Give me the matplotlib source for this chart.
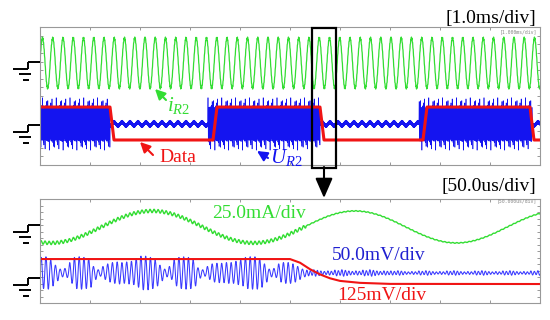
import numpy as np
import matplotlib.pyplot as plt
from matplotlib.patches import Rectangle

plt.rcParams['font.family'] = ['Liberation Serif', 'DejaVu Sans']
plt.rcParams['mathtext.fontset'] = 'custom'
plt.rcParams['mathtext.it'] = 'Liberation Serif:italic'
plt.rcParams['mathtext.rm'] = 'Liberation Serif'

# Values read off the two scope screens (x and y both in divisions)
# --- top screen, 1.0 ms/div ---
top_green_level = 5.91
top_green_amp = 1.45
top_green_period = 0.205
top_green_first_peak = 0.05

top_data_t = [0.0, 1.40, 1.48, 3.46, 3.54, 5.60, 5.68, 7.66, 7.74, 9.80, 9.88, 10.0]
top_data_v = [3.36, 3.36, 1.45, 1.45, 3.36, 3.36, 1.45, 1.45, 3.36, 3.36, 1.45, 1.45]

top_blue_level = 2.38
top_burst_start = [0.0, 3.36, 7.58]
top_burst_end = [1.40, 5.60, 9.84]
top_burst_spikes = [0.95, 0.90, 1.00, 1.35, 0.92, 0.88, 1.02, 0.96, 1.52, 0.90,
                    0.94, 1.05, 0.86, 1.22, 0.98, 0.90, 1.00, 1.45, 0.93, 0.89,
                    1.08, 0.95, 1.30]
top_idle_zigzag = 0.12
top_idle_wobble = 0.10
top_idle_wobble_period = 0.16

zoom_start = 5.44
zoom_width = 0.48

# --- bottom screen, 50.0 us/div ---
bot_green_level = 5.85
bot_green_amp = 1.23
bot_green_period = 4.06
bot_green_peak = 2.24
bot_green_ripple = [0.13, 0.03]

bot_data_t = [0.0, 5.0, 5.2, 5.4, 5.6, 5.8, 6.0, 6.4, 7.0, 10.0]
bot_data_v = [3.38, 3.38, 3.10, 2.60, 2.20, 1.90, 1.70, 1.55, 1.47, 1.46]

bot_blue_level = 2.31
bot_carrier_period = 0.095
bot_blue_cycle_amp = [1.20, 1.25, 1.00, 0.60, 0.30, 0.35, 0.80, 1.20, 1.25, 1.20,
                      1.10, 0.50, 0.25, 0.50, 0.70, 0.80, 0.85, 0.80, 0.85, 0.90,
                      1.10, 1.30, 1.30, 1.20, 1.00, 0.60, 0.30, 0.50, 1.00, 1.20,
                      1.25, 1.20, 1.00, 0.40, 0.25, 0.50, 0.70, 0.75, 0.75, 0.80,
                      0.80, 0.90, 1.00, 1.20, 1.25, 1.25, 1.10, 0.70, 0.30, 0.35,
                      0.70, 0.80, 0.80, 0.70, 0.50, 0.30]
bot_tail_period = 0.07
bot_tail_amp = [0.22, 0.18, 0.25, 0.20, 0.15, 0.12, 0.16, 0.13]
bot_tail_change = 7.0

green = '#33dd33'
blue = '#1414f0'
red = '#f01414'

fig = plt.figure(figsize=(5.5, 3.2), dpi=100)
ax1 = fig.add_axes([40 / 550, 155 / 320, 500 / 550, 138 / 320])
ax2 = fig.add_axes([40 / 550, 17 / 320, 500 / 550, 104 / 320])

for ax in (ax1, ax2):
    ax.set_xlim(0, 10)
    ax.set_ylim(0, 8)
    ax.set_xticks(np.arange(0, 11, 1))
    ax.set_yticks(np.arange(0, 8.5, 0.5))
    ax.tick_params(direction='in', length=2, width=0.6, color='#888888',
                   top=True, right=True, labelbottom=False, labelleft=False)
    for s in ax.spines.values():
        s.set_color('#999999')
        s.set_linewidth(0.8)

# ---- top screen ----
t = np.arange(0, 10.0001, 0.006)
g = top_green_level + top_green_amp * np.cos(2 * np.pi * (t - top_green_first_peak) / top_green_period)
g += 0.06 * np.where(np.arange(len(t)) % 2 == 0, 1, -1)
ax1.plot(t, g, color=green, lw=0.9)

sign = np.where(np.arange(len(t)) % 2 == 0, 1.0, -1.0)
spikes = np.resize(top_burst_spikes, len(t))
on = np.zeros(len(t), dtype=bool)
for a, b in zip(top_burst_start, top_burst_end):
    on |= (t >= a) & (t <= b)
idle = top_idle_wobble * np.sin(2 * np.pi * t / top_idle_wobble_period) + top_idle_zigzag * sign
b_top = top_blue_level + np.where(on, spikes * sign, idle)
ax1.plot(t, b_top, color=blue, lw=0.45)

ax1.plot(top_data_t, top_data_v, color=red, lw=2.2)

ax1.add_patch(Rectangle((zoom_start, -0.17), zoom_width, 8.11, fill=False,
                        edgecolor='black', lw=1.6, clip_on=False, zorder=5))

# ---- bottom screen ----
tb = np.arange(0, 10.0001, 0.004)
n_cyc = len(bot_blue_cycle_amp)
burst_end = n_cyc * bot_carrier_period
idx = np.clip((tb / bot_carrier_period).astype(int), 0, n_cyc - 1)
burst = np.array(bot_blue_cycle_amp)[idx] * np.sin(2 * np.pi * tb / bot_carrier_period)
tail_idx = ((tb - burst_end) / bot_tail_period).astype(int) % len(bot_tail_amp)
tail_amp = np.array(bot_tail_amp)[tail_idx] * np.where(tb < bot_tail_change, 1.0, 0.7)
tail = tail_amp * np.sin(2 * np.pi * (tb - burst_end) / bot_tail_period)
b_bot = bot_blue_level + np.where(tb < burst_end, burst, tail)
ax2.plot(tb, b_bot, color='#3a3aff', lw=0.75)

gr = np.where(tb < burst_end, bot_green_ripple[0], bot_green_ripple[1])
gb = bot_green_level + bot_green_amp * np.cos(2 * np.pi * (tb - bot_green_peak) / bot_green_period)
gb += gr * np.sin(2 * np.pi * tb / (bot_carrier_period * 0.85))
ax2.plot(tb, gb, color=green, lw=1.0)

ax2.plot(bot_data_t, bot_data_v, color=red, lw=1.5)

# ---- decorations in pixel space ----
deco = fig.add_axes([0, 0, 1, 1])
deco.set_xlim(0, 550)
deco.set_ylim(320, 0)
deco.axis('off')


def ground(y0):
    kw = dict(color='black', lw=1.4, solid_capstyle='butt')
    deco.plot([28, 40], [y0, y0], **kw)
    deco.plot([28, 28], [y0, y0 + 7], **kw)
    deco.plot([13, 28], [y0 + 7, y0 + 7], **kw)
    deco.plot([19, 31], [y0 + 12, y0 + 12], **kw)
    deco.plot([23, 29], [y0 + 18, y0 + 18], **kw)


for y0 in [62, 125, 225, 278]:
    ground(y0)

deco.annotate('', xy=(324, 198), xytext=(324, 167),
              arrowprops=dict(arrowstyle='-|>,head_length=0.8,head_width=0.35',
                              color='black', lw=1.5, mutation_scale=15,
                              shrinkA=0, shrinkB=0))


def pointer(tail, head, color):
    deco.annotate('', xy=head, xytext=tail,
                  arrowprops=dict(arrowstyle='-|>,head_length=0.5,head_width=0.25',
                                  color=color, lw=1.5, mutation_scale=12,
                                  shrinkA=0, shrinkB=0))


pointer((166, 100), (155, 89), green)
pointer((153, 155), (140, 142), red)
pointer((268, 158), (257, 151), blue)

deco.text(167, 106, r'$i_{\mathit{R2}}$', color=green, fontsize=15, va='center')
deco.text(159, 157, 'Data', color=red, fontsize=14, va='center')
deco.text(270, 158, r'$U_{\mathit{R2}}$', color=blue, fontsize=15, va='center')

deco.text(536, 18, '[1.0ms/div]', fontsize=14, ha='right', va='center')
deco.text(536, 186, '[50.0us/div]', fontsize=14, ha='right', va='center')
deco.text(537, 32, '[1.000ms/div]', fontsize=3.5, family='DejaVu Sans Mono',
          color='#888888', ha='right', va='center')
deco.text(537, 201, '[50.000us/div]', fontsize=3.5, family='DejaVu Sans Mono',
          color='#888888', ha='right', va='center')

deco.text(212, 214, '25.0mA/div', color=green, fontsize=14, va='center')
deco.text(332, 256, '50.0mV/div', color='#2020d0', fontsize=14, va='center')
deco.text(337, 296, '125mV/div', color=red, fontsize=14, va='center')

fig.savefig('out.png', dpi=100)
